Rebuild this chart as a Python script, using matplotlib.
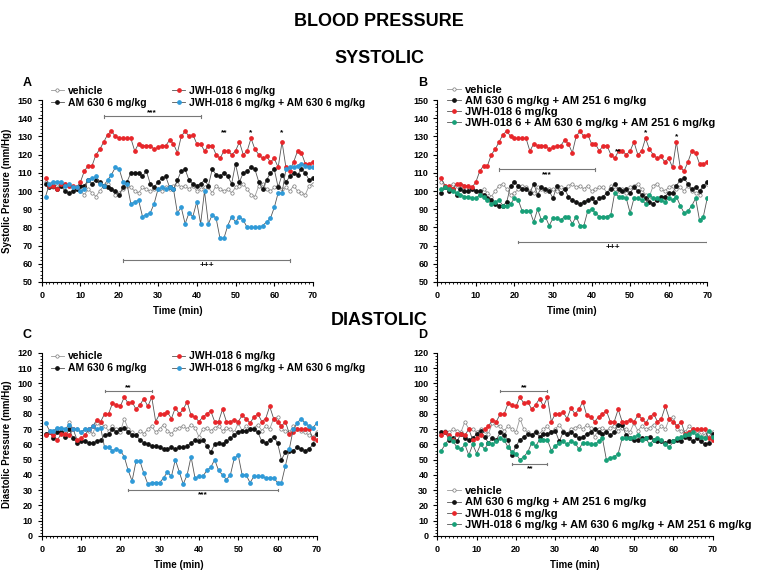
import numpy as np
import matplotlib
matplotlib.use("Agg")
import matplotlib.pyplot as plt
from matplotlib.ticker import MultipleLocator

plt.rcParams["font.family"] = "Liberation Sans"
plt.rcParams["font.weight"] = "bold"

# systolic values (mmHg), one per minute 1..70
veh_sys = [105,103,102,104,103,104,103,102,101,100,98,101,99,97,100,103,104,101,98,99,
           101,103,102,100,99,102,101,100,101,101,100,102,101,103,104,102,103,101,103,100,
           101,102,102,99,103,101,100,101,99,102,103,104,101,98,97,103,104,101,100,102,
           103,101,102,100,103,100,99,98,103,104]
jwh_sys = [107,103,103,101,104,104,103,103,102,105,111,114,114,120,123,127,131,133,130,129,
           129,129,129,122,126,125,125,125,123,124,125,125,128,126,121,130,133,130,131,126,
           126,122,125,125,120,118,122,122,120,122,127,120,122,129,123,120,118,119,116,118,
           113,127,113,111,116,122,121,115,115,116]
am630_sys = [104,102,103,101,103,100,99,100,101,103,103,106,104,106,105,103,102,101,100,98,
             102,105,110,110,110,108,111,104,102,105,107,108,102,101,106,111,112,106,104,103,
             104,106,103,112,109,108,110,108,104,115,105,110,111,113,112,105,101,106,110,112,
             102,109,105,108,110,109,112,110,106,107]
jwh_am630_sys = [97,104,105,105,105,103,104,102,102,100,101,106,107,108,104,103,106,109,113,112,
                 105,104,93,94,95,86,87,88,93,101,102,101,102,101,88,91,82,88,86,94,
                 82,100,82,87,85,74,74,81,86,83,86,84,80,80,80,80,81,83,85,91,
                 99,99,112,113,113,114,115,114,113,113]
am630_am251_sys = [99,102,100,101,98,101,100,100,101,100,100,98,96,95,93,92,92,94,103,105,
                   103,101,101,99,104,98,102,101,100,96,103,99,101,97,95,94,93,94,95,96,
                   94,96,97,99,101,104,101,100,101,99,102,100,98,96,94,93,95,97,97,99,
                   99,103,106,107,104,101,102,100,103,105]
jwh_all_sys = [101,102,101,100,99,98,97,97,96,96,98,97,95,93,94,95,92,92,93,96,
               95,89,89,89,83,90,84,86,81,85,85,84,86,86,82,86,81,81,89,90,
               88,86,86,86,87,99,97,97,96,88,96,96,95,93,98,96,96,95,94,96,
               95,97,92,88,89,92,96,84,86,96]

# diastolic values (mmHg)
veh_dia = [66,69,68,70,69,68,75,70,70,68,70,69,67,74,73,72,69,72,70,68,
           77,70,68,66,69,67,70,72,68,70,73,69,67,70,71,72,70,73,71,65,
           70,71,69,71,72,69,71,70,68,74,69,72,70,71,73,69,72,70,77,78,
           70,69,68,72,70,69,68,66,65,68]
jwh_dia = [66,68,66,63,67,67,66,70,63,64,66,70,72,76,75,80,80,87,86,85,
           91,87,88,83,86,90,85,91,75,80,80,81,77,84,80,83,88,79,78,75,
           78,80,82,75,75,83,75,75,76,75,79,77,74,78,80,75,77,85,77,75,
           72,75,67,68,70,70,70,70,64,63]
am630_dia = [67,68,64,68,68,65,70,64,61,62,62,61,61,62,63,66,67,70,68,70,
             71,68,66,66,63,61,60,59,59,58,57,57,58,57,58,58,59,61,63,62,
             63,59,55,60,61,60,62,64,66,68,69,69,70,70,68,62,61,63,65,61,
             50,55,56,56,58,57,56,57,60,67]
jwh_am630_dia = [74,69,69,71,71,70,73,70,70,68,70,70,72,70,71,58,58,56,57,56,
                 52,43,36,49,49,41,34,35,35,35,38,42,39,50,42,34,40,52,38,39,
                 39,43,45,50,43,40,37,40,51,53,40,40,35,39,39,39,38,38,38,35,
                 35,46,57,70,74,77,74,72,71,74]
am630_am251_dia = [68,68,63,64,62,67,64,63,64,67,69,65,61,64,63,68,66,63,53,59,
                   63,65,67,66,68,65,67,67,68,69,62,68,67,68,66,64,65,67,68,70,
                   68,67,68,66,68,73,73,66,64,63,63,64,64,65,63,62,62,61,62,62,
                   63,62,65,64,62,64,62,60,61,67]
jwh_all_dia = [56,60,64,62,58,57,60,53,60,54,60,57,61,60,62,64,63,58,55,54,
               50,52,55,61,59,63,63,63,56,59,61,62,60,62,61,57,61,61,60,60,
               62,64,50,51,52,54,64,64,64,65,66,63,64,60,63,64,63,60,58,62,
               64,65,66,67,68,66,65,64,69,65]

RED, BLUE, GREEN, BLACK = "#e8262a", "#2f9ad8", "#17a078", "#111111"

fig = plt.figure(figsize=(7.58, 5.72), dpi=100)
axA = fig.add_axes([0.055, 0.507, 0.358, 0.318])
axB = fig.add_axes([0.577, 0.507, 0.356, 0.318])
axC = fig.add_axes([0.055, 0.063, 0.363, 0.320])
axD = fig.add_axes([0.577, 0.063, 0.363, 0.320])


def series(ax, vals, color, label, open_marker=False):
    x = np.arange(1, len(vals) + 1)
    if open_marker:
        ax.plot(x, vals, "-o", color="#999999", lw=0.6, ms=2.4, mfc="white",
                mec="#777777", mew=0.5, label=label)
    else:
        ax.plot(x, vals, "-o", color="#555555", lw=0.6, ms=2.4, mfc=color,
                mec=color, label=label)


def style(ax, ymax, ystep, letter):
    for s in ["top", "right"]:
        ax.spines[s].set_visible(False)
    ax.set_xlim(0, 70)
    ax.set_ylim(50 if ymax == 150 else 0, ymax)
    ax.xaxis.set_major_locator(MultipleLocator(10))
    ax.xaxis.set_minor_locator(MultipleLocator(1))
    ax.yaxis.set_major_locator(MultipleLocator(ystep))
    ax.yaxis.set_minor_locator(MultipleLocator(ystep / 5))
    ax.tick_params(labelsize=6.5, length=3, width=0.8)
    ax.tick_params(which="minor", length=1.5)
    ax.set_xlabel("Time (min)", fontsize=7, fontweight="bold")
    ax.text(-0.07, 1.08, letter, transform=ax.transAxes, fontsize=9, fontweight="bold")


def bracket(ax, x0, x1, y, txt, below=False):
    ax.plot([x0, x1], [y, y], color="#777777", lw=0.8)
    ax.plot([x0, x0], [y - 0.8, y + 0.8], color="#777777", lw=0.8)
    ax.plot([x1, x1], [y - 0.8, y + 0.8], color="#777777", lw=0.8)
    ax.text((x0 + x1) / 2, y - 4 if below else y + 1.5, txt, ha="center",
            fontsize=6, fontweight="bold")


# A
series(axA, veh_sys, None, "vehicle", open_marker=True)
series(axA, am630_sys, BLACK, "AM 630 6 mg/kg")
series(axA, jwh_sys, RED, "JWH-018 6 mg/kg")
series(axA, jwh_am630_sys, BLUE, "JWH-018 6 mg/kg + AM 630 6 mg/kg")
style(axA, 150, 10, "A")
axA.set_ylabel("Systolic Pressure (mm/Hg)", fontsize=7, fontweight="bold")
bracket(axA, 16, 41, 141, "***")
bracket(axA, 21, 64, 62, "+++", below=True)
for xs, t in [(47, "**"), (54, "*"), (62, "*")]:
    axA.text(xs, 131, t, ha="center", fontsize=6, fontweight="bold")
axA.legend(loc="upper left", bbox_to_anchor=(0.0, 1.13), ncol=2, frameon=False,
           fontsize=7.5, handlelength=1.2, columnspacing=2.5, labelspacing=0.2,
           handletextpad=0.4)

# B
series(axB, veh_sys, None, "vehicle", open_marker=True)
series(axB, am630_am251_sys, BLACK, "AM 630 6 mg/kg + AM 251 6 mg/kg")
series(axB, jwh_sys, RED, "JWH-018 6 mg/kg")
series(axB, jwh_all_sys, GREEN, "JWH-018 6 + AM 630 6 mg/kg + AM 251 6 mg/kg")
style(axB, 150, 10, "B")
bracket(axB, 16, 41, 112, "***", below=True)
bracket(axB, 21, 70, 72, "+++", below=True)
for xs, y, t in [(47, 121, "**"), (54, 131, "*"), (62, 129, "*")]:
    axB.text(xs, y, t, ha="center", fontsize=6, fontweight="bold")
axB.legend(loc="upper left", bbox_to_anchor=(0.0, 1.14), ncol=1, frameon=False,
           fontsize=8, handlelength=1.2, labelspacing=0.1, handletextpad=0.4)

# C
series(axC, veh_dia, None, "vehicle", open_marker=True)
series(axC, am630_dia, BLACK, "AM 630 6 mg/kg")
series(axC, jwh_dia, RED, "JWH-018 6 mg/kg")
series(axC, jwh_am630_dia, BLUE, "JWH-018 6 mg/kg + AM 630 6 mg/kg")
style(axC, 120, 10, "C")
axC.set_ylabel("Diastolic Pressure (mm/Hg)", fontsize=7, fontweight="bold")
bracket(axC, 16, 28, 95, "**")
bracket(axC, 22, 60, 30, "***", below=True)
axC.legend(loc="upper left", bbox_to_anchor=(0.0, 1.06), ncol=2, frameon=False,
           fontsize=7.5, handlelength=1.2, columnspacing=2.5, labelspacing=0.2,
           handletextpad=0.4)

# D
series(axD, veh_dia, None, "vehicle", open_marker=True)
series(axD, am630_am251_dia, BLACK, "AM 630 6 mg/kg + AM 251 6 mg/kg")
series(axD, jwh_dia, RED, "JWH-018 6 mg/kg")
series(axD, jwh_all_dia, GREEN, "JWH-018 6 mg/kg + AM 630 6 mg/kg + AM 251 6 mg/kg")
style(axD, 120, 10, "D")
bracket(axD, 16, 28, 95, "**")
bracket(axD, 19, 28, 47, "**", below=True)
axD.legend(loc="lower left", bbox_to_anchor=(0.0, -0.02), ncol=1, frameon=False,
           fontsize=8, handlelength=1.2, labelspacing=0.1, handletextpad=0.4)

fig.text(0.5, 0.955, "BLOOD PRESSURE", ha="center", fontsize=13, fontweight="bold")
fig.text(0.5, 0.890, "SYSTOLIC", ha="center", fontsize=13, fontweight="bold")
fig.text(0.5, 0.432, "DIASTOLIC", ha="center", fontsize=13, fontweight="bold")

fig.savefig("out.png", dpi=100)
